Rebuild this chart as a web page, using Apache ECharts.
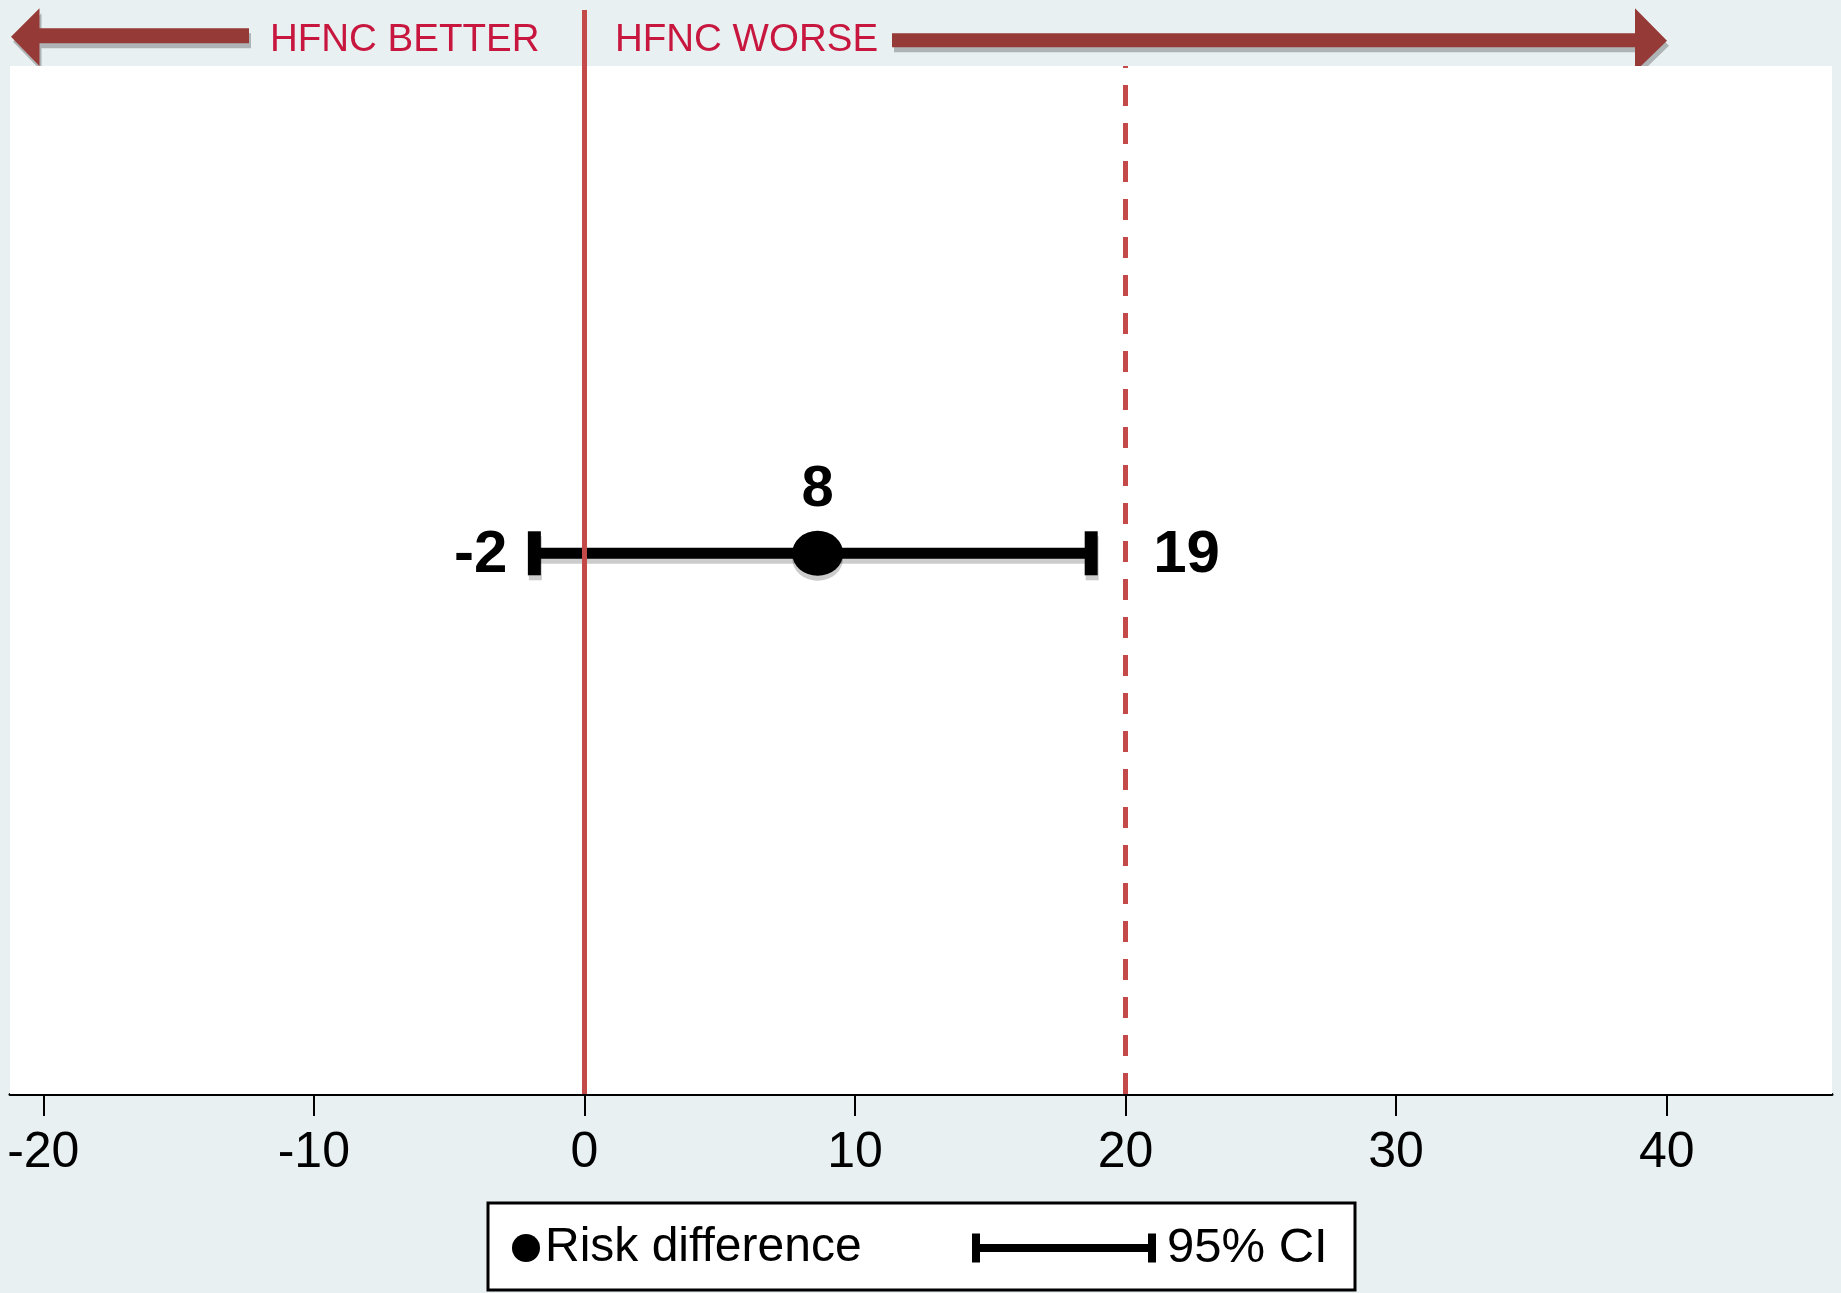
<!DOCTYPE html>
<html>
<head>
<meta charset="utf-8">
<script src="https://cdn.jsdelivr.net/npm/echarts@6/dist/echarts.min.js"></script>
<style>
  html, body { margin: 0; padding: 0; background: #e8f0f2; }
  #chart { width: 1841px; height: 1293px; }
</style>
</head>
<body>
<div id="chart"></div>
<script>
// ---- data ----
const categories = ['Risk difference'];
const pointEstimate = [8.62];
const ciLow = [-1.85];
const ciHigh = [18.73];
const rowPosition = [0.526];
const pointLabels = ['8'];
const lowLabels = ['-2'];
const highLabels = ['19'];
const xTicks = [-20, -10, 0, 10, 20, 30, 40];
const noEffectLine = [0];
const marginLine = [20];
const directionLabels = ['HFNC BETTER', 'HFNC WORSE'];
const legendNames = ['Risk difference', '95% CI'];

// ---- layout constants ----
const X_MIN = -21.23, X_MAX = 46.11;
const Y_MAX = 1.0545;
const FONT = '"Liberation Sans", Arial, Helvetica, sans-serif';
const RED = '#c44a4a';
const ARROW = '#963a38';
const TXT_RED = '#c8173f';
const SHADOW = 'rgba(0,0,0,0.2)';

const CI_ICON = 'path://M0,0 h8 v29 h-8 Z M8,10.5 h168 v8 h-168 Z M176,0 h8 v29 h-8 Z';

const chart = echarts.init(document.getElementById('chart'), null, { renderer: 'canvas' });

const option = {
  backgroundColor: '#e8f0f2',
  animation: false,
  grid: { left: 10, right: 9, top: 10, bottom: 199, containLabel: false },
  xAxis: {
    type: 'value', min: X_MIN, max: X_MAX,
    axisLine: { show: true, onZero: false, lineStyle: { color: '#000', width: 3 } },
    axisTick: { show: true, length: 22, lineStyle: { color: '#000', width: 2 }, customValues: xTicks },
    axisLabel: { customValues: xTicks, fontSize: 50, color: '#000', margin: 34, fontFamily: FONT },
    splitLine: { show: false }
  },
  yAxis: { type: 'value', min: 0, max: Y_MAX, show: false },
  legend: [
    {
      data: [{ name: legendNames[0], icon: 'circle' }],
      left: 512, top: 1222, padding: 0, itemWidth: 28, itemHeight: 30,
      selectedMode: false,
      textStyle: { fontSize: 48, color: '#000', fontFamily: FONT, lineHeight: 52 }
    },
    {
      data: [{ name: legendNames[1], icon: CI_ICON, itemStyle: { color: '#000' } }],
      left: 972, top: 1222, padding: 0, itemWidth: 184, itemHeight: 30,
      selectedMode: false,
      textStyle: { fontSize: 49, color: '#000', fontFamily: FONT, lineHeight: 52, padding: [0, 0, 0, 6] }
    }
  ],
  graphic: [
    // legend box
    { type: 'rect', shape: { x: 488, y: 1203, width: 867, height: 87 },
      style: { fill: '#fff', stroke: '#000', lineWidth: 3 }, z: -1 },
    // left arrow
    { type: 'polygon',
      shape: { points: [[11, 36.7], [39.5, 8.3], [39.5, 28.3], [249, 28.3], [249, 43.3], [39.5, 43.3], [39.5, 66]] },
      style: { fill: ARROW, shadowColor: 'rgba(0,0,0,0.25)', shadowOffsetX: 2, shadowOffsetY: 5, shadowBlur: 0 } },
    // right arrow
    { type: 'polygon',
      shape: { points: [[892, 33.3], [1635, 33.3], [1635, 8.3], [1667, 40.7], [1635, 71.7], [1635, 47.3], [892, 47.3]] },
      style: { fill: ARROW, shadowColor: 'rgba(0,0,0,0.25)', shadowOffsetX: 2, shadowOffsetY: 5, shadowBlur: 0 } },
    { type: 'text', left: 270, top: 21,
      style: { text: directionLabels[0], fontSize: 38.5, fontFamily: FONT, fill: TXT_RED } },
    { type: 'text', left: 615, top: 21,
      style: { text: directionLabels[1], fontSize: 38.5, fontFamily: FONT, fill: TXT_RED } }
  ],
  series: [
    {
      // white plotting region
      type: 'line', data: [], z: 1, silent: true,
      markArea: {
        silent: true,
        itemStyle: { color: '#ffffff' },
        data: [[{ coord: [X_MIN, 0] }, { coord: [X_MAX, 1] }]]
      }
    },
    {
      name: legendNames[1],
      type: 'custom', z: 3,
      itemStyle: { color: '#000' },
      encode: { x: [0, 1], y: 2 },
      data: ciLow.map((lo, i) => [lo, ciHigh[i], rowPosition[i]]),
      renderItem: function (params, api) {
        const i = params.dataIndex;
        const y = api.value(2);
        const lo = api.coord([api.value(0), y]);
        const hi = api.coord([api.value(1), y]);
        const sh = { shadowColor: SHADOW, shadowOffsetY: 5, shadowOffsetX: 1, shadowBlur: 0 };
        return {
          type: 'group',
          children: [
            { type: 'line', shape: { x1: lo[0], y1: lo[1], x2: hi[0], y2: hi[1] },
              style: Object.assign({ stroke: '#000', lineWidth: 11 }, sh) },
            { type: 'rect', shape: { x: lo[0] - 6.5, y: lo[1] - 22, width: 13, height: 44 },
              style: Object.assign({ fill: '#000' }, sh) },
            { type: 'rect', shape: { x: hi[0] - 6.5, y: hi[1] - 22, width: 13, height: 44 },
              style: Object.assign({ fill: '#000' }, sh) },
            { type: 'text', style: { text: lowLabels[i], x: lo[0] - 27, y: lo[1] + 2,
                align: 'right', verticalAlign: 'middle', fontSize: 60, fontWeight: 'bold',
                fontFamily: FONT, fill: '#000' } },
            { type: 'text', style: { text: highLabels[i], x: hi[0] + 62, y: hi[1] + 2,
                align: 'left', verticalAlign: 'middle', fontSize: 60, fontWeight: 'bold',
                fontFamily: FONT, fill: '#000' } }
          ]
        };
      }
    },
    {
      name: legendNames[0],
      type: 'scatter', z: 4,
      symbol: 'circle', symbolSize: [51, 45],
      itemStyle: { color: '#000', shadowColor: SHADOW, shadowOffsetY: 5, shadowBlur: 0, opacity: 1 },
      data: pointEstimate.map((v, i) => [v, rowPosition[i]]),
      label: {
        show: true, position: 'top', distance: 12,
        formatter: p => pointLabels[p.dataIndex],
        fontSize: 58, fontWeight: 'bold', color: '#000', fontFamily: FONT
      }
    },
    {
      // reference lines (drawn above the CI, as in the reference)
      type: 'line', data: [], z: 5, silent: true,
      markLine: {
        silent: true, symbol: ['none', 'none'], label: { show: false },
        data: [
          ...noEffectLine.map(v => [
            { coord: [v, 0], lineStyle: { color: RED, width: 5, type: 'solid' } },
            { coord: [v, Y_MAX] }
          ]),
          ...marginLine.map(v => [
            { coord: [v, 0], lineStyle: { color: RED, width: 5, type: [21, 17] } },
            { coord: [v, 1] }
          ])
        ]
      }
    }
  ]
};

chart.setOption(option);
</script>
</body>
</html>
